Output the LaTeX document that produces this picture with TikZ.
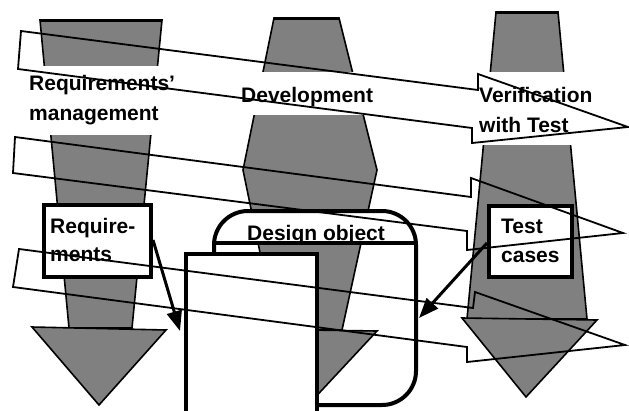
\documentclass[tikz,border=0pt]{standalone}
\usepackage{fontspec}
\setmainfont{Liberation Sans}
\usetikzlibrary{arrows.meta}
\definecolor{colgray}{HTML}{808080}
\begin{document}
\begin{tikzpicture}[x=1pt,y=-1pt,
  flow/.style={fill=colgray,draw=black,line width=1.6pt,line join=miter},
  flowtop/.style={draw=black,line width=3pt},
  cover/.style={fill=white},
  lbl/.style={font=\bfseries\fontsize{21}{30}\selectfont,inner sep=0pt,anchor=base west},
  frame/.style={draw=black,line width=4pt,fill=white,inner sep=0pt,anchor=north west},
  band/.style={draw=black,line width=1.8pt,line join=miter},
  link/.style={draw=black,line width=3pt,-{Triangle[length=20pt,width=15pt]}}]

\useasboundingbox (0,0) rectangle (629,410);

% --- three downward flows ---
% left flow
\path[flow] (40,20) -- (162,20) -- (132,328) -- (69,328) -- cycle;
\draw[flowtop] (40,20) -- (162,20);
\path[flow] (32,327) -- (166,330) -- (99,405) -- cycle;
% middle flow
\path[flow] (274,18) -- (339,18) -- (377,170) -- (342,330) -- (276,330) -- (243,170) -- cycle;
\draw[flowtop] (274,18) -- (339,18);
\path[flow] (240,329) -- (377,331) -- (308,405) -- cycle;
% right flow
\path[flow] (496,12) -- (558,12) -- (587,319) -- (467,319) -- cycle;
\draw[flowtop] (496,12) -- (558,12);
\path[flow] (462,318) -- (597,320) -- (526,397) -- cycle;

% label backgrounds
\path[cover] (28,65.5) rectangle (176,135);
\path[cover] (238,72) rectangle (382,115);
\path[cover] (462,72) rectangle (602,145);

% --- design object ---
\begin{scope}
  \clip[rounded corners=34pt] (214,211) rectangle (416,405);
  \fill[white] (214,211) rectangle (416,243);
\end{scope}
\node[lbl] (dobj) at (247,240) {Design object};
\draw[line width=4pt,rounded corners=34pt] (214,211) rectangle (416,405);
\draw[line width=4pt] (214,243) -- (416,243);

% --- boxes ---
\node[frame,minimum width=107pt,minimum height=72pt] (reqbox) at (42,203) {};
\node[frame,minimum width=83pt,minimum height=71pt] (tcbox) at (487,204) {};
\node[frame,minimum width=131pt,minimum height=160pt] (sheet) at (184,252) {};

% --- labels ---
\node[lbl] (rm1) at (29,90.5) {Requirements’};
\node[lbl] (rm2) at (29,120.5) {management};
\node[lbl] (dev) at (241,102) {Development};
\node[lbl] (vt1) at (479,102) {Verification};
\node[lbl] (vt2) at (479,132) {with Test};
\node[lbl] (rq1) at (50,233) {Require-};
\node[lbl] (rq2) at (50,261) {ments};
\node[lbl] (tc1) at (501,233) {Test};
\node[lbl] (tc2) at (501,262) {cases};

% --- links ---
\coordinate (a1s) at (153,240);
\coordinate (a1e) at (180,331);
\draw[link] (a1s) -- (a1e);
\coordinate (a2s) at (487,243);
\coordinate (a2e) at (419,318);
\draw[link] (a2s) -- (a2e);

% --- horizontal bands ---
\draw[band] (21,31) -- (478,90) -- (478,74) -- (628,127) -- (472,143) -- (472,128) -- (18,69) -- cycle;
\draw[band] (15,137) -- (471,197) -- (471,178) -- (623,233) -- (467,250) -- (467,231) -- (13,173) -- cycle;
\draw[band] (19,249) -- (473,308) -- (475,292) -- (625,345) -- (467,362) -- (467,347) -- (13,287) -- cycle;
\end{tikzpicture}
\end{document}
